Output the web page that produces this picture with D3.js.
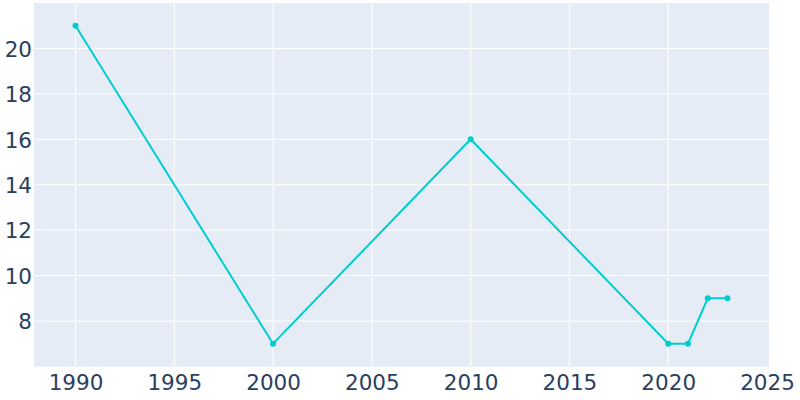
<!DOCTYPE html>
<html><head><meta charset="utf-8">
<script src="https://cdn.jsdelivr.net/npm/d3@7"></script>
<style>body{margin:0;background:#fff}svg{display:block}</style>
</head><body>
<svg id="c" width="800" height="400"></svg>
<script>
const years = [1990, 2000, 2010, 2020, 2021, 2022, 2023];
const values = [21, 7, 16, 7, 7, 9, 9];
const xTicks = [1990, 1995, 2000, 2005, 2010, 2015, 2020, 2025];
const yTicks = [8, 10, 12, 14, 16, 18, 20];

const m = {l: 34, r: 31, t: 3, b: 33.3};
const W = 800, H = 400;
const svg = d3.select("#c");
const x = d3.scaleLinear().domain([1987.9, 2025.1]).range([m.l, W - m.r]);
const y = d3.scaleLinear().domain([5.99, 22]).range([H - m.b, m.t]);

svg.append("rect").attr("x", m.l).attr("y", m.t).attr("width", W - m.l - m.r).attr("height", H - m.t - m.b).attr("fill", "#e5ecf6");

const gx = svg.append("g").attr("transform", `translate(0,${H - m.b})`)
  .call(d3.axisBottom(x).tickValues(xTicks).tickFormat(d3.format("d")).tickSize(0).tickPadding(23.3));
const gy = svg.append("g").attr("transform", `translate(${m.l},0)`)
  .call(d3.axisLeft(y).tickValues(yTicks).tickSize(0).tickPadding(2));
[gx, gy].forEach(g => {
  g.select(".domain").remove();
  g.selectAll("text").attr("fill", "#2a3f5f").style("font-family", "'DejaVu Sans', sans-serif").style("font-size", "21.5px");
});
gx.selectAll("text").attr("dy", "0");
gy.selectAll("text").attr("dy", "0.36em");

svg.append("g").selectAll("line").data(xTicks.filter(d => x(d) < W - m.r - 5)).join("line")
  .attr("x1", d => x(d)).attr("x2", d => x(d)).attr("y1", m.t).attr("y2", H - m.b)
  .attr("stroke", "#fff").attr("stroke-width", 1);
svg.append("g").selectAll("line").data(yTicks).join("line")
  .attr("x1", m.l).attr("x2", W - m.r).attr("y1", d => y(d)).attr("y2", d => y(d))
  .attr("stroke", "#fff").attr("stroke-width", 1);

const pts = years.map((d, i) => [d, values[i]]);
svg.append("path").datum(pts)
  .attr("d", d3.line().x(d => x(d[0])).y(d => y(d[1])))
  .attr("fill", "none").attr("stroke", "#00cdd0").attr("stroke-width", 2);
svg.append("g").selectAll("circle").data(pts).join("circle")
  .attr("cx", d => x(d[0])).attr("cy", d => y(d[1])).attr("r", 3).attr("fill", "#00cdd0");
</script>
</body></html>
